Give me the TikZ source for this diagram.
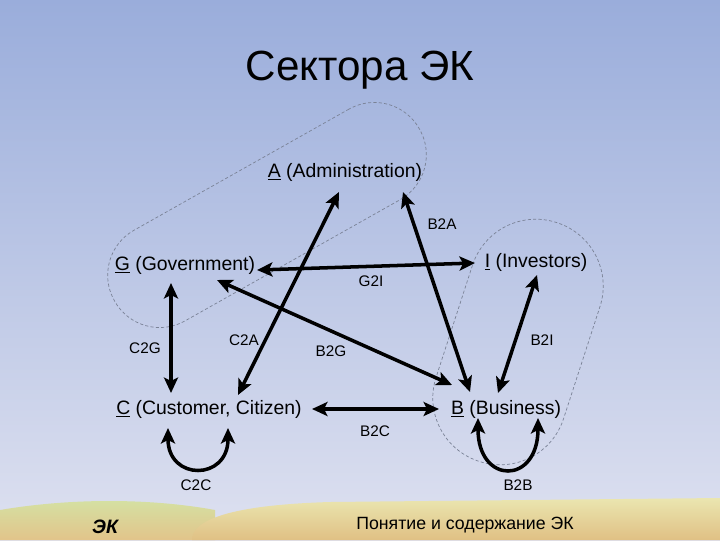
\documentclass[tikz,border=0pt]{standalone}
\usepackage{fontspec}
\setmainfont{Liberation Sans}
\usetikzlibrary{arrows.meta}
\usetikzlibrary{calc}
\definecolor{bgtop}{RGB}{154,173,219}
\definecolor{bgmid}{RGB}{192,203,234}
\definecolor{bgbot}{RGB}{222,225,240}
\definecolor{hilltop}{RGB}{212,226,164}
\definecolor{hillbot}{RGB}{226,196,138}
\definecolor{sandtop}{RGB}{234,230,176}
\definecolor{sandbot}{RGB}{224,192,132}
\definecolor{dashgray}{RGB}{122,130,150}
\tikzset{
  sector/.style={inner sep=0pt, font=\fontsize{13.8}{16}\selectfont},
  flow/.style={inner sep=0pt, font=\fontsize{10.9}{13}\selectfont},
  biarrow/.style={{Stealth[length=11pt,width=10pt,inset=2.5pt]}-{Stealth[length=11pt,width=10pt,inset=2.5pt]}, line width=2.5pt},
  region/.style={draw=dashgray, line width=0.5pt, dash pattern=on 2.2pt off 1.6pt, inner sep=0pt},
}

\begin{document}
\begin{tikzpicture}[x=0.025cm, y=-0.025cm]
\useasboundingbox (0,0) rectangle (720,540);
\shade[top color=bgtop, middle color=bgmid, bottom color=bgbot] (0,0) rectangle (720,540);
\shade[top color=hilltop, bottom color=hillbot] (0,540) -- (0,510) .. controls (70,498) and (150,498) .. (215,510) -- (215,540) -- cycle;
\shade[top color=sandtop, bottom color=sandbot] (192,540) .. controls (192,520) and (230,505) .. (330,502) -- (720,498) -- (720,540) -- cycle;
\node (title) at (360,70) {\fontsize{30}{36}\selectfont Сектора ЭК};
\node[region, rounded corners=1.29cm, minimum width=8.75cm, minimum height=2.6cm, rotate=29.4] (agzone) at (267,215) {};
\node[region, rounded corners=1.665cm, minimum width=6.275cm, minimum height=3.35cm, rotate=72] (ibzone) at (518,342) {};
\node[sector] (adm) at (345,172) {\underline{A} (Administration)};
\node[sector] (gov) at (185,265) {\underline{G} (Government)};
\node[sector] (inv) at (536,262) {\underline{I} (Investors)};
\node[sector] (cust) at (209,409) {\underline{C} (Customer, Citizen)};
\node[sector] (bus) at (506,409) {\underline{B} (Business)};
\draw[biarrow] ($(gov)+(72,5)$) -- ($(inv)+(-61,1)$);
\draw[biarrow] ($(cust)+(29,-14)$) -- ($(adm)+(-6,20)$);
\draw[biarrow] ($(adm)+(58,20)$) -- ($(bus)+(-36,-17)$);
\draw[biarrow] ($(gov)+(32,15)$) -- ($(bus)+(-54,-24)$);
\draw[biarrow] ($(inv)+(1,13)$) -- ($(bus)+(-8,-16)$);
\draw[biarrow] ($(gov)+(-14,18)$) -- ($(cust)+(-38,-16)$);
\draw[biarrow] ($(cust)+(103,0)$) -- ($(bus)+(-67,0)$);
\draw[biarrow] ($(cust)+(-41,19)$) .. controls +(0,53) and +(0,53) .. ($(cust)+(19,19)$);
\draw[biarrow] ($(bus)+(-28,9)$) .. controls +(0,67) and +(0,67) .. ($(bus)+(32,9)$);
\node[flow] (b2a) at (442,224) {B2A};
\node[flow] (g2i) at (371,281) {G2I};
\node[flow] (b2i) at (542,340) {B2I};
\node[flow] (c2a) at (244,340) {C2A};
\node[flow] (b2g) at (331,351) {B2G};
\node[flow] (c2g) at (145,348) {C2G};
\node[flow] (b2c) at (375,431) {B2C};
\node[flow] (c2c) at (196,485) {C2C};
\node[flow] (b2b) at (518,485) {B2B};
\node (footleft) at (105,527) {\fontsize{13.8}{16}\selectfont\bfseries\itshape ЭК};
\node (footright) at (465,525) {\fontsize{12.6}{15}\selectfont Понятие и содержание ЭК};
\end{tikzpicture}
\end{document}
